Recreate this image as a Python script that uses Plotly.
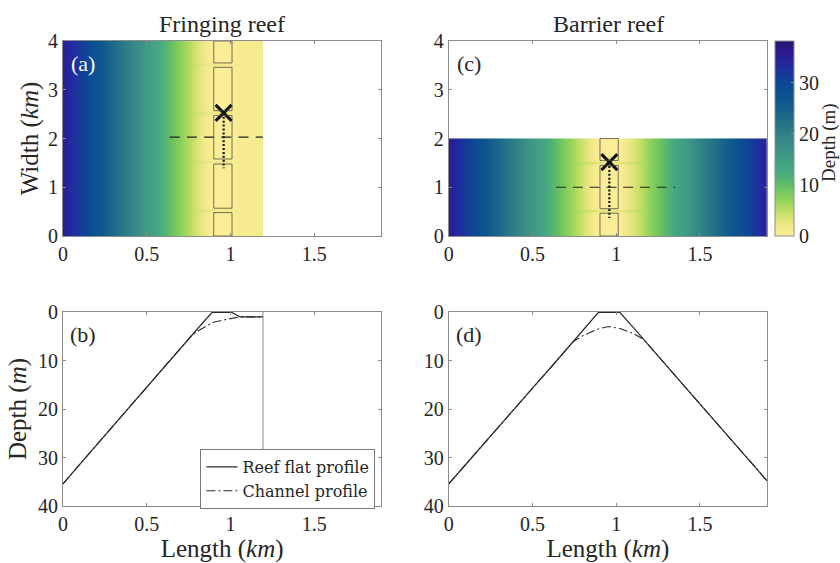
import plotly.graph_objects as go

# ---------- data ----------
fr_x = [0.0, 0.001, 0.1, 0.2, 0.3, 0.4, 0.5, 0.6, 0.7, 0.765, 0.8, 0.85, 0.89, 0.95, 1.009, 1.03, 1.058, 1.1, 1.193, 1.194]
fr_reef = [35.4, 35.4, 31.4, 27.4, 23.5, 19.5, 15.5, 11.5, 7.5, 4.95, 3.5, 1.6, 0.1, 0.1, 0.1, 0.5, 1.0, 1.0, 1.0, 1.0]
fr_chan = [35.4, 35.4, 31.4, 27.4, 23.5, 19.5, 15.5, 11.5, 7.5, 4.95, 4.0, 2.9, 2.2, 1.7, 1.35, 1.2, 1.0, 1.0, 1.0, 1.0]

ba_x = [0.0, 0.001, 0.1, 0.2, 0.3, 0.4, 0.5, 0.6, 0.7, 0.744, 0.8, 0.87, 0.893, 0.953, 1.022, 1.1, 1.162, 1.2, 1.3, 1.4, 1.5, 1.6, 1.7, 1.8, 1.899, 1.9]
ba_reef = [35.4, 35.4, 31.5, 27.5, 23.6, 19.6, 15.7, 11.8, 7.8, 6.1, 3.9, 1.0, 0.1, 0.1, 0.1, 3.1, 5.6, 7.1, 11.1, 15.0, 19.0, 22.9, 26.9, 30.8, 34.8, 34.8]
ba_chan = [35.4, 35.4, 31.5, 27.5, 23.6, 19.6, 15.7, 11.8, 7.8, 6.1, 4.9, 3.8, 3.5, 3.0, 3.4, 4.4, 5.6, 7.1, 11.1, 15.0, 19.0, 22.9, 26.9, 30.8, 34.8, 34.8]

# rows across the width; True marks a channel row
fr_y = [0.0, 0.001, 0.47, 0.525, 0.58, 1.47, 1.525, 1.58, 2.47, 2.525, 2.58, 3.46, 3.515, 3.57, 3.999, 4.0]
fr_row_is_channel = [False, False, False, True, False, False, True, False, False, True, False, False, True, False, False, False]
ba_y = [0.0, 0.001, 0.46, 0.515, 0.57, 1.445, 1.5, 1.555, 1.999, 2.0]
ba_row_is_channel = [False, False, False, True, False, False, True, False, False, False]

fr_reef_boxes = [(0.9, 1.009, 0.0, 0.48), (0.9, 1.009, 0.57, 1.475), (0.9, 1.009, 1.58, 2.47), (0.9, 1.009, 2.57, 3.46), (0.9, 1.009, 3.55, 4.0)]
ba_reef_boxes = [(0.903, 1.012, 0.0, 0.467), (0.903, 1.012, 0.56, 1.447), (0.903, 1.012, 1.55, 2.0)]

fr_dash_x, fr_dash_y = [0.637, 1.194], [2.03, 2.03]
fr_dot_x, fr_dot_y = [0.959, 0.959], [2.525, 1.39]
fr_cross_x, fr_cross_y = [0.959], [2.525]
ba_dash_x, ba_dash_y = [0.641, 1.352], [1.0, 1.0]
ba_dot_x, ba_dot_y = [0.959, 0.959], [1.516, 0.37]
ba_cross_x, ba_cross_y = [0.959], [1.516]
wall_x, wall_y = [1.194, 1.194], [0, 40]

x_ticks = [0, 0.5, 1, 1.5]
x_tick_labels = ["0", "0.5", "1", "1.5"]
width_ticks = [0, 1, 2, 3, 4]
depth_ticks = [0, 10, 20, 30, 40]
cbar_ticks = [0, 10, 20, 30]
depth_max = 38.2

colorscale = [
    [0.000, "rgb(253,238,152)"], [0.065, "rgb(235,230,130)"], [0.130, "rgb(190,222,100)"],
    [0.190, "rgb(140,210,90)"], [0.260, "rgb(100,190,100)"], [0.330, "rgb(70,170,130)"],
    [0.450, "rgb(60,145,135)"], [0.560, "rgb(40,118,135)"], [0.680, "rgb(15,90,140)"],
    [0.780, "rgb(12,72,150)"], [0.880, "rgb(36,40,160)"], [0.950, "rgb(44,26,140)"], [1.000, "rgb(38,20,110)"],
]

# ---------- style ----------
FONT = "Liberation Serif"
INK = "#262626"
BOX = "#8c8c8c"
W, H = 840, 563
L, R, T, B = 62.5, 767, 41, 506   # plot area in window pixels


def fx(px):
    return (px - L) / (R - L)


def fy(py):
    return (B - py) / (B - T)


def grid(rows, reef, chan):
    return [list(chan) if r else list(reef) for r in rows]


fig = go.Figure()
fig.add_trace(go.Heatmap(x=fr_x, y=fr_y, z=grid(fr_row_is_channel, fr_reef, fr_chan), coloraxis="coloraxis",
                         zsmooth="best", xaxis="x", yaxis="y", hoverinfo="skip"))
fig.add_trace(go.Heatmap(x=ba_x, y=ba_y, z=grid(ba_row_is_channel, ba_reef, ba_chan), coloraxis="coloraxis",
                         zsmooth="best", xaxis="x3", yaxis="y3", hoverinfo="skip"))


def overlay(dx, dy, dash, ox, oy, cx, cy, ax, ay):
    fig.add_trace(go.Scatter(x=dx, y=dy, mode="lines", line=dict(color="#222222", width=1.2, dash=dash),
                             xaxis=ax, yaxis=ay, showlegend=False))
    fig.add_trace(go.Scatter(x=ox, y=oy, mode="lines", line=dict(color="#111111", width=2.2, dash="2px,1.9px"),
                             xaxis=ax, yaxis=ay, showlegend=False))
    fig.add_trace(go.Scatter(x=cx, y=cy, mode="markers", xaxis=ax, yaxis=ay, showlegend=False,
                             marker=dict(symbol="x-thin", size=16, color="#111111", line=dict(width=3, color="#111111"))))


overlay(fr_dash_x, fr_dash_y, "10px,7.2px", fr_dot_x, fr_dot_y, fr_cross_x, fr_cross_y, "x", "y")
overlay(ba_dash_x, ba_dash_y, "10px,6.77px", ba_dot_x, ba_dot_y, ba_cross_x, ba_cross_y, "x3", "y3")

CH_DASH = "9px,3px,2px,3px"
LINE = "#2a2a2a"
fig.add_trace(go.Scatter(x=wall_x, y=wall_y, mode="lines", line=dict(color="#8a8a8a", width=1),
                         xaxis="x2", yaxis="y2", showlegend=False))
fig.add_trace(go.Scatter(x=fr_x, y=fr_reef, mode="lines", name="Reef flat profile", line=dict(color=LINE, width=1.2),
                         xaxis="x2", yaxis="y2"))
fig.add_trace(go.Scatter(x=fr_x, y=fr_chan, mode="lines", name="Channel profile",
                         line=dict(color=LINE, width=1.1, dash=CH_DASH), xaxis="x2", yaxis="y2"))
fig.add_trace(go.Scatter(x=ba_x, y=ba_chan, mode="lines", line=dict(color=LINE, width=1.1, dash=CH_DASH),
                         xaxis="x4", yaxis="y4", showlegend=False))
fig.add_trace(go.Scatter(x=ba_x, y=ba_reef, mode="lines", line=dict(color=LINE, width=1.2),
                         xaxis="x4", yaxis="y4", showlegend=False))

shapes = []
for boxes, xr, yr in ((fr_reef_boxes, "x", "y"), (ba_reef_boxes, "x3", "y3")):
    for x0, x1, y0, y1 in boxes:
        shapes.append(dict(type="rect", xref=xr, yref=yr, x0=x0, x1=x1, y0=y0, y1=y1,
                           line=dict(color="rgba(70,70,60,0.75)", width=1), layer="above"))

TICKFONT = dict(family=FONT, size=20, color=INK)
TITLEFONT = dict(family=FONT, size=25, color=INK)


def xax(a, b, anchor, title=None):
    d = dict(domain=[fx(a), fx(b)], range=[0, 1.9], anchor=anchor, tickvals=x_ticks, ticktext=x_tick_labels,
             ticks="inside", ticklen=3, tickcolor=BOX, tickwidth=1, showline=True, linecolor=BOX, linewidth=1,
             mirror="ticks", showgrid=False, zeroline=False, tickfont=TICKFONT, layer="above traces", automargin=True)
    if title:
        d["title"] = dict(text=title, font=TITLEFONT, standoff=6)
    return d


def yax(top, bottom, anchor, rng, vals, title=None, standoff=2):
    d = dict(domain=[fy(bottom), fy(top)], range=rng, anchor=anchor, tickvals=vals, ticks="inside", ticklen=3,
             tickcolor=BOX, tickwidth=1, showline=True, linecolor=BOX, linewidth=1, mirror="ticks",
             showgrid=False, zeroline=False, tickfont=TICKFONT, layer="above traces", automargin=True)
    if title:
        d["title"] = dict(text=title, font=TITLEFONT, standoff=standoff)
    return d


def note(text, x, y, size=20, color=INK, angle=0):
    return dict(text=text, x=fx(x), y=fy(y), xref="paper", yref="paper", showarrow=False, textangle=angle,
                font=dict(family=FONT, size=size, color=color), xanchor="center", yanchor="middle")


fig.update_layout(
    width=W, height=H, margin=dict(l=L, r=W - R, t=T, b=H - B, pad=0, autoexpand=False), autosize=False,
    plot_bgcolor="white", paper_bgcolor="white", font=dict(family=FONT, color=INK), shapes=shapes,
    xaxis=xax(62.5, 381, "y"), yaxis=yax(41, 236, "x", [0, 4], width_ticks, "Width (<i>km</i>)", 2),
    xaxis2=xax(62.5, 381, "y2", "Length (<i>km</i>)"),
    yaxis2=yax(312, 506, "x2", [40, 0], depth_ticks, "Depth (<i>m</i>)", 4),
    xaxis3=xax(448.5, 767, "y3"), yaxis3=yax(41, 236, "x3", [0, 4], width_ticks),
    xaxis4=xax(448.5, 767, "y4", "Length (<i>km</i>)"), yaxis4=yax(312, 506, "x4", [40, 0], depth_ticks),
    coloraxis=dict(cmin=0, cmax=depth_max, colorscale=colorscale, colorbar=dict(
        x=fx(775), xanchor="left", xref="paper", y=fy(236), yanchor="bottom", yref="paper",
        len=195, lenmode="pixels", thickness=19, thicknessmode="pixels", outlinecolor=BOX, outlinewidth=1,
        tickvals=cbar_ticks, ticks="inside", ticklen=3, tickcolor=BOX, tickfont=TICKFONT, xpad=0, ypad=0)),
    legend=dict(x=fx(200), y=fy(449), xanchor="left", yanchor="top", xref="paper", yref="paper",
                bgcolor="white", bordercolor="#7a7a7a", borderwidth=1,
                font=dict(family="DejaVu Serif", size=16, color=INK), itemwidth=31, tracegroupgap=0),
    annotations=[
        note("Fringing reef", 222, 24, 24), note("Barrier reef", 608, 24, 24),
        note("(a)", 83, 64, 22, "white"), note("(b)", 83, 334, 22),
        note("(c)", 469, 64, 22), note("(d)", 469, 334, 22),
        note("Depth (m)", 829, 142, 19, INK, -90),
    ],
)

fig.write_html("out.html", post_script="document.body.style.margin='0';", config=dict(displayModeBar=False))
